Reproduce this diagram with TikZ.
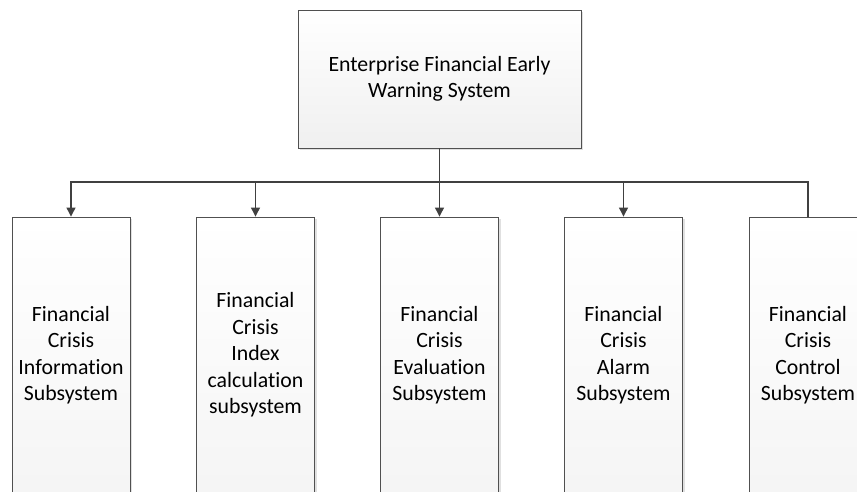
\documentclass[tikz,border=0pt]{standalone}
\usepackage{fontspec}
\setmainfont{Carlito}[Ligatures=NoCommon]
\usetikzlibrary{arrows.meta,shadows}
\definecolor{edge}{HTML}{505050}
\definecolor{wire}{HTML}{404040}
\tikzset{
  sysbox/.style={draw=edge, line width=0.9pt, top color=white, bottom color=black!6,
    drop shadow={shadow xshift=2pt, shadow yshift=-2pt, fill=black!20, opacity=0.6},
    align=center, inner sep=0pt,
    font=\fontsize{21.8}{26.5}\selectfont},
  topbox/.style={sysbox, minimum width=283pt, minimum height=138pt},
  subbox/.style={sysbox, bottom color=black!4, minimum width=118pt, minimum height=276pt},
  wireline/.style={draw=wire, line width=1.2pt},
  arr/.style={wireline, -{Triangle[width=9pt,length=9pt]}}
}
\begin{document}
\begin{tikzpicture}[x=1pt, y=-1pt]
  \useasboundingbox (0,0) rectangle (857,491);
  \clip (0,0) rectangle (857,491);
  \fill[white] (0,0) rectangle (857,491);

  % root of the hierarchy
  \node[topbox] (top) at (439.5,79) {Enterprise Financial Early\\Warning System};

  % five subsystems
  \node[subbox] (s1) at (71,355)    {Financial\\Crisis\\Information\\Subsystem};
  \node[subbox] (s2) at (255.5,355) {Financial\\Crisis\\Index\\calculation\\subsystem};
  \node[subbox] (s3) at (439.5,355) {Financial\\Crisis\\Evaluation\\Subsystem};
  \node[subbox] (s4) at (623.5,355) {Financial\\Crisis\\Alarm\\Subsystem};
  \node[subbox] (s5) at (808,355)   {Financial\\Crisis\\Control\\Subsystem};

  % distribution bus
  \coordinate (bus) at (439.5,182);
  \draw[arr] (top.south) -- (s3.north);
  \draw[arr] (bus) -| (s1.north);
  \draw[arr] (bus) -| (s2.north);
  \draw[arr] (bus) -| (s4.north);
  \draw[wireline] (bus) -| (s5.north);
\end{tikzpicture}
\end{document}
